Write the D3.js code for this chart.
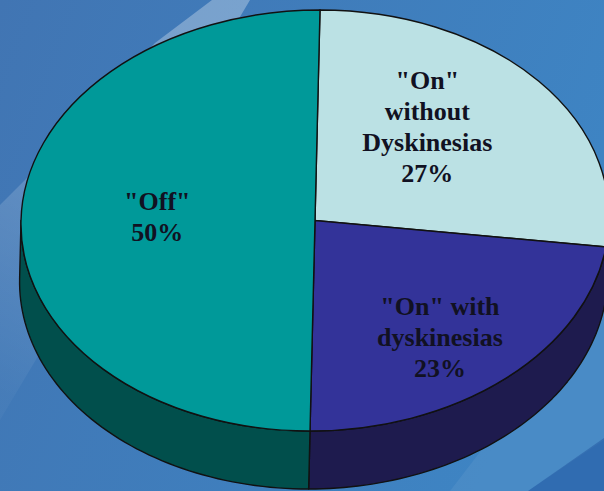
<!DOCTYPE html>
<html>
<head>
<meta charset="utf-8">
<script src="https://cdn.jsdelivr.net/npm/d3@7"></script>
<style>
  body { margin: 0; background: #3f78b6; }
  svg { display: block; }
</style>
</head>
<body>
<div class="chart"></div>
<script>
// data (clockwise from 12 o'clock)
var categories = ["On without dyskinesias", "On with dyskinesias", "Off"];
var labelLines = [['"On"', "without", "Dyskinesias"], ['"On" with', "dyskinesias"], ['"Off"']];
var values = [27, 23, 50];

var svgWidth = 604;
var svgHeight = 491;

// pie geometry (flattened, slightly leaning ellipse)
var cx = 315, cy = 220.5;
var rx = 294, ry = 210.5;
var depth = 58;
var skew = -1.36; // degrees

var topColor = d3.scaleOrdinal()
  .domain(categories)
  .range(["#bbe1e4", "#333399", "#009999"]);
var sideColor = d3.scaleOrdinal()
  .domain(categories)
  .range(["#7fa3a7", "#1e1b4e", "#014f4c"]);

var svg = d3.select(".chart")
  .append("svg")
  .attr("width", svgWidth)
  .attr("height", svgHeight);

// background
var defs = svg.append("defs");
var bg = defs.append("linearGradient")
  .attr("id", "bg")
  .attr("x1", 0).attr("y1", 0).attr("x2", 1).attr("y2", 0.3);
bg.append("stop").attr("offset", "0%").attr("stop-color", "#4175b3");
bg.append("stop").attr("offset", "100%").attr("stop-color", "#3e84c3");

var streak = defs.append("linearGradient")
  .attr("id", "streak")
  .attr("x1", 0.5).attr("y1", 0).attr("x2", 0.2).attr("y2", 1);
streak.append("stop").attr("offset", "0%").attr("stop-color", "#ffffff").attr("stop-opacity", 0.3);
streak.append("stop").attr("offset", "100%").attr("stop-color", "#ffffff").attr("stop-opacity", 0.03);

svg.append("rect")
  .attr("width", svgWidth)
  .attr("height", svgHeight)
  .attr("fill", "url(#bg)");

svg.append("path")
  .attr("d", "M212,0 L250,0 L0,420 L0,205 L25,180 L155,43 Z")
  .attr("fill", "url(#streak)");

svg.append("path")
  .attr("d", "M604,290 L604,440 L528,491 L450,491 Z")
  .attr("fill", "#ffffff")
  .attr("opacity", 0.06);

svg.append("path")
  .attr("d", "M604,438 L604,491 L528,491 Z")
  .attr("fill", "#1f4f9c")
  .attr("opacity", 0.45);

// pie
var pie = d3.pie().sort(null).value(d => d.value);
var arcs = pie(categories.map((c, i) => ({ name: c, value: values[i] })));

var chartGroup = svg.append("g")
  .attr("transform", `translate(${cx}, ${cy}) skewX(${skew})`);

function pt(a, dy) {
  return [rx * Math.sin(a), -ry * Math.cos(a) + (dy || 0)];
}

// side walls, only the front half is visible
chartGroup.selectAll("path.side")
  .data(arcs)
  .enter()
  .append("path")
  .attr("class", "side")
  .attr("d", function(d) {
    var a0 = Math.max(d.startAngle, Math.PI / 2);
    var a1 = Math.min(d.endAngle, Math.PI * 3 / 2);
    if (a0 >= a1) return null;
    var steps = 60;
    var topPts = d3.range(steps + 1).map(i => pt(a0 + (a1 - a0) * i / steps, 0));
    var botPts = topPts.slice().reverse().map(p => [p[0], p[1] + depth]);
    return d3.line()(topPts.concat(botPts)) + "Z";
  })
  .attr("fill", d => sideColor(d.data.name))
  .attr("stroke", "#111")
  .attr("stroke-width", 1.4)
  .attr("stroke-linejoin", "round");

// top face
var arc = d3.arc().innerRadius(0).outerRadius(rx);
chartGroup.append("g")
  .attr("transform", `scale(1, ${ry / rx})`)
  .selectAll("path")
  .data(arcs)
  .enter()
  .append("path")
  .attr("d", arc)
  .attr("fill", d => topColor(d.data.name))
  .attr("stroke", "#111")
  .attr("stroke-width", 1.4)
  .attr("vector-effect", "non-scaling-stroke");

// labels
var labelShift = [[-9, -18], [18, 30], [4, -4]];
var lineHeight = 31;
var labelArc = d3.arc().innerRadius(0).outerRadius(rx * 1.1);

var labels = svg.append("g")
  .selectAll("text")
  .data(arcs)
  .enter()
  .append("text")
  .attr("transform", function(d, i) {
    var c = labelArc.centroid(d);
    var x = cx + c[0] + labelShift[i][0];
    var y = cy + c[1] * ry / rx + labelShift[i][1];
    return `translate(${x}, ${y})`;
  })
  .attr("text-anchor", "middle")
  .style("font-family", "'Liberation Serif', 'Times New Roman', serif")
  .style("font-weight", "bold")
  .style("font-size", "26px")
  .attr("fill", "#111122");

labels.each(function(d, i) {
  var lines = labelLines[i].concat([d3.format(".0f")(d.data.value / d3.sum(values) * 100) + "%"]);
  var t = d3.select(this);
  lines.forEach(function(s, j) {
    t.append("tspan")
      .attr("x", 0)
      .attr("y", (j - (lines.length - 1) / 2) * lineHeight)
      .attr("dy", "0.35em")
      .text(s);
  });
});
</script>
</body>
</html>
